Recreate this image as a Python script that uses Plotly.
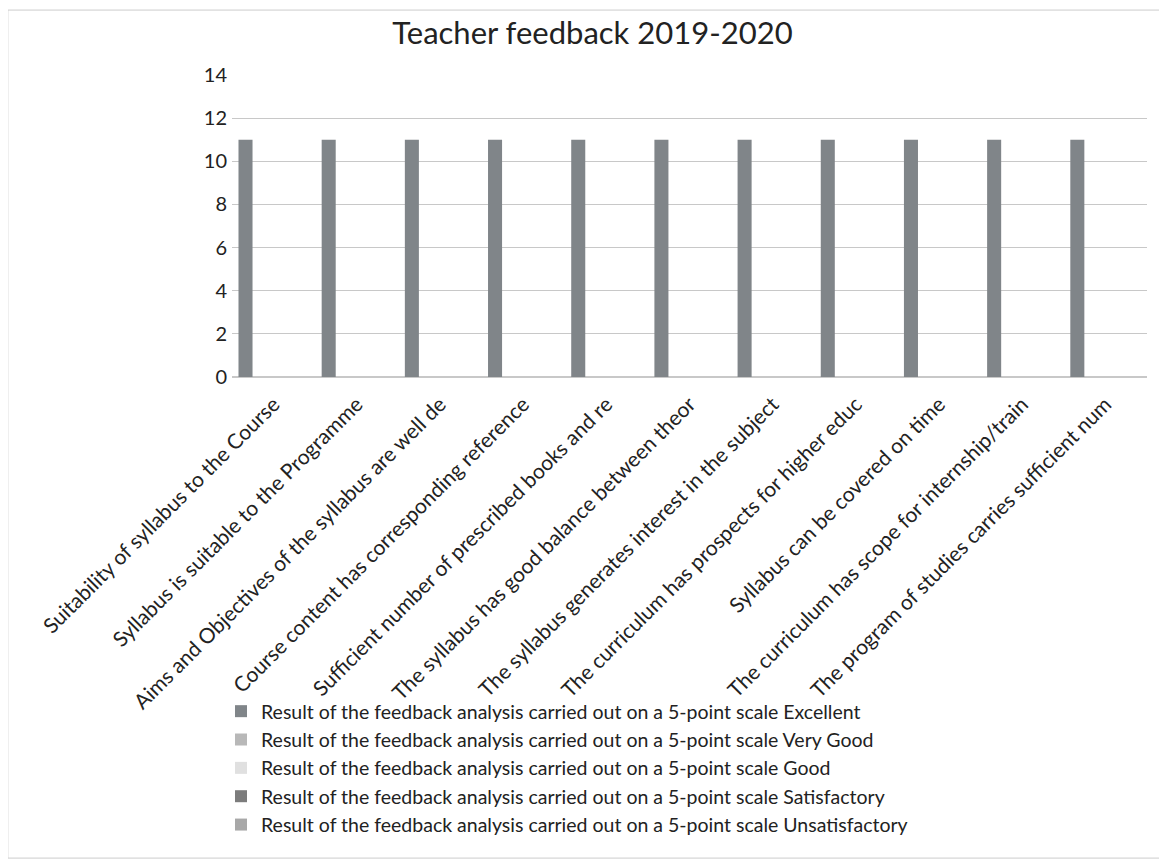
import plotly.graph_objects as go

categories = [
    "Suitability of syllabus to the Course",
    "Syllabus is suitable to the Programme",
    "Aims and Objectives of the syllabus are well de",
    "Course content has corresponding reference",
    "Sufficient number of prescribed books and re",
    "The syllabus has good balance between theor",
    "The syllabus generates interest in the subject",
    "The curriculum has prospects for higher educ",
    "Syllabus can be covered on time",
    "The curriculum has scope for internship/train",
    "The program of studies carries sufficient num",
]
excellent = [11, 11, 11, 11, 11, 11, 11, 11, 11, 11, 11]
very_good = [0, 0, 0, 0, 0, 0, 0, 0, 0, 0, 0]
good = [0, 0, 0, 0, 0, 0, 0, 0, 0, 0, 0]
satisfactory = [0, 0, 0, 0, 0, 0, 0, 0, 0, 0, 0]
unsatisfactory = [0, 0, 0, 0, 0, 0, 0, 0, 0, 0, 0]

prefix = "Result of the feedback analysis carried out on a 5-point scale "
series = [
    (prefix + "Excellent", excellent, "#808589"),
    (prefix + "Very Good", very_good, "#b8b8b8"),
    (prefix + "Good", good, "#e0e0e0"),
    (prefix + "Satisfactory", satisfactory, "#7c7c7c"),
    (prefix + "Unsatisfactory", unsatisfactory, "#a8a8a8"),
]

fig = go.Figure()
for name, vals, col in series:
    fig.add_trace(go.Bar(x=categories, y=vals, name=name,
                         marker=dict(color=col, line=dict(width=0))))

FONT = "Lato, 'Open Sans', sans-serif"
fig.update_layout(
    width=1159, height=860,
    barmode="group", bargap=0.156, bargroupgap=0,
    paper_bgcolor="white", plot_bgcolor="white",
    margin=dict(l=224, r=20, t=67, b=491, autoexpand=False),
    font=dict(family=FONT, size=20, color="#222222"),
    title=dict(text="Teacher feedback 2019-2020", x=0.5043, xanchor="center",
               y=0.971, yanchor="middle",
               font=dict(family=FONT, size=31, color="#222222")),
    xaxis=dict(tickangle=-45, showgrid=False, showline=False, ticks="",
               tickfont=dict(size=21), ticklabelstandoff=10, automargin=False),
    yaxis=dict(range=[0, 14], dtick=2, showgrid=True, gridcolor="#c8c8c8",
               gridwidth=1, zeroline=True, zerolinecolor="#c8c8c8",
               showline=False, ticks="", tickfont=dict(size=20),
               ticklabelstandoff=4, automargin=False),
    legend=dict(orientation="v", x=-0.012, y=-1.043, xanchor="left",
                yanchor="top", font=dict(size=19.5, color="#222222"),
                tracegroupgap=0, itemwidth=30, bgcolor="rgba(0,0,0,0)"),
    showlegend=True,
    shapes=[dict(type="rect", xref="paper", yref="paper",
                 x0=-0.245, x1=1.0175, y0=-1.593, y1=1.215,
                 line=dict(color="#cccccc", width=1))],
)

fig.write_html("out.html")
